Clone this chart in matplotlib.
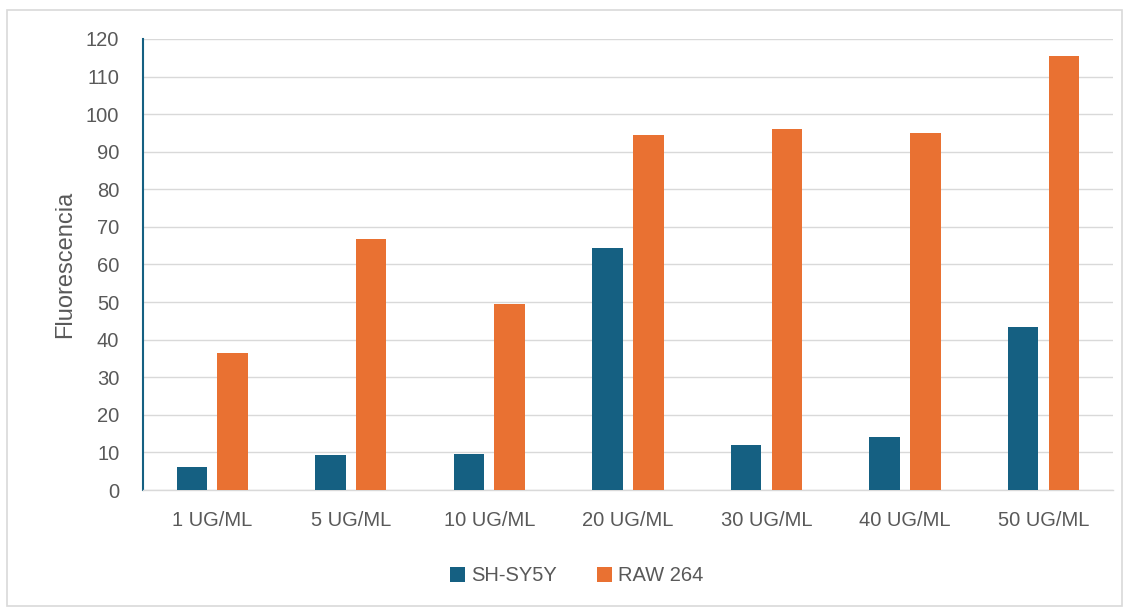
import matplotlib.pyplot as plt
import numpy as np
from matplotlib.patches import Rectangle

categories = ["1 UG/ML", "5 UG/ML", "10 UG/ML", "20 UG/ML", "30 UG/ML", "40 UG/ML", "50 UG/ML"]
sh_sy5y = [6.1, 9.3, 9.6, 64.4, 12.0, 14.1, 43.4]
raw_264 = [36.5, 66.8, 49.5, 94.5, 96.1, 95.0, 115.5]

blue = "#156082"
orange = "#E97132"
txt = "#595959"

plt.rcParams['font.family'] = ['Liberation Sans', 'DejaVu Sans']

fig = plt.figure(figsize=(11.31, 6.08), dpi=100)
ax = fig.add_axes([0.1264, 0.194, 0.8576, 0.742])

x = np.arange(len(categories))
w = 0.22
ax.bar(x - 0.147, sh_sy5y, w, color=blue, label="SH-SY5Y", zorder=3)
ax.bar(x + 0.147, raw_264, w, color=orange, label="RAW 264", zorder=3)

ax.set_xlim(-0.5, len(categories) - 0.5)
ax.set_ylim(0, 120)
ax.set_yticks(range(0, 121, 10))
ax.set_xticks(x)
ax.set_xticklabels(categories)
ax.grid(axis='y', color="#d9d9d9", linewidth=1, zorder=0)
ax.tick_params(axis='both', length=0, labelsize=14.5, colors=txt)
ax.tick_params(axis='y', pad=17)
ax.tick_params(axis='x', pad=15)

for s in ['top', 'right']:
    ax.spines[s].set_visible(False)
ax.spines['left'].set_color(blue)
ax.spines['left'].set_linewidth(1.5)
ax.spines['bottom'].set_color("#d9d9d9")
ax.spines['bottom'].set_linewidth(1)

ax.set_ylabel("Fluorescencia", fontsize=17, color=txt, labelpad=7)

fig.legend(loc='center', bbox_to_anchor=(0.51, 0.053), ncol=2, frameon=False,
           fontsize=14.5, handlelength=0.75, handleheight=0.75, handletextpad=0.3,
           columnspacing=2.0, labelcolor=txt)

fig.patches.append(Rectangle((0.006, 0.003), 0.986, 0.98, transform=fig.transFigure,
                             fill=False, edgecolor="#d9d9d9", linewidth=1.2))

fig.savefig("out.png", dpi=100)
